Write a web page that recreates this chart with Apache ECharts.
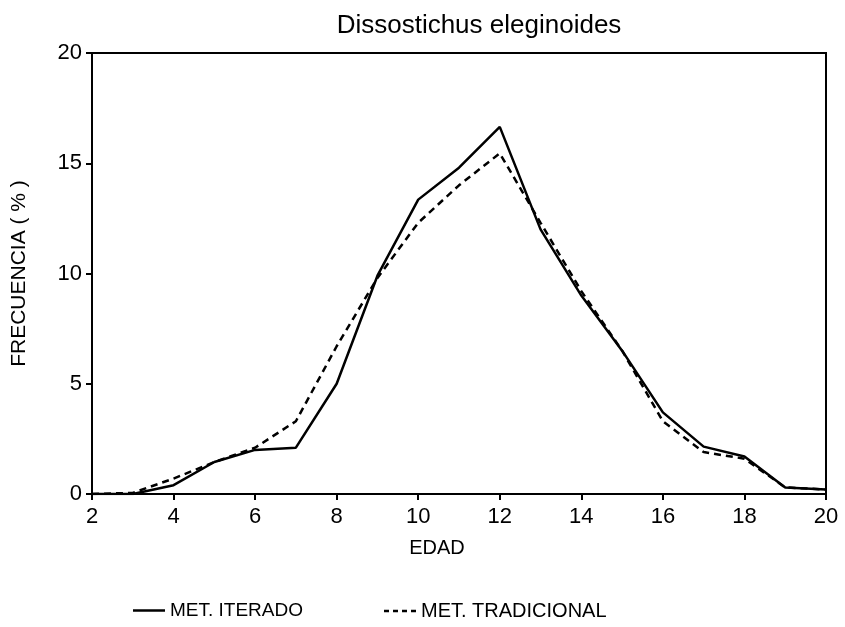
<!DOCTYPE html>
<html>
<head>
<meta charset="utf-8">
<script src="https://cdn.jsdelivr.net/npm/echarts@6/dist/echarts.min.js"></script>
<style>html,body{margin:0;padding:0;background:#fff}#c{width:845px;height:627px}</style>
</head>
<body>
<div id="c"></div>
<script>
var ages = [2, 3, 4, 5, 6, 7, 8, 9, 10, 11, 12, 13, 14, 15, 16, 17, 18, 19, 20];
var iterado = [0, 0, 0.4, 1.45, 2.0, 2.1, 5.0, 9.9, 13.35, 14.8, 16.65, 12.0, 9.0, 6.5, 3.7, 2.15, 1.7, 0.3, 0.2];
var tradicional = [0, 0.05, 0.7, 1.45, 2.1, 3.3, 6.7, 9.8, 12.3, 14.0, 15.45, 12.3, 9.2, 6.5, 3.3, 1.9, 1.6, 0.3, 0.2];
var yTicks = [0, 5, 10, 15, 20];

function pairs(v) { return ages.map(function (a, i) { return [a, v[i]]; }); }

var font = 'Liberation Sans, Arial, sans-serif';
var chart = echarts.init(document.getElementById('c'));
chart.setOption({
  animation: false,
  backgroundColor: '#fff',
  title: {
    text: 'Dissostichus eleginoides',
    left: 474, top: 8, textAlign: 'center',
    textStyle: { fontFamily: font, fontSize: 26, fontWeight: 'normal', color: '#000' }
  },
  grid: { left: 92, right: 19, top: 53, bottom: 133, show: true, borderColor: '#000', borderWidth: 2, backgroundColor: 'transparent' },
  xAxis: {
    type: 'value', min: 2, max: 20, interval: 2,
    name: 'EDAD', nameLocation: 'middle', nameGap: 44,
    nameTextStyle: { fontFamily: font, fontSize: 20, color: '#000', padding: [0, 44, 0, 0] },
    axisLine: { lineStyle: { color: '#000', width: 2 } },
    axisTick: { show: true, inside: false, length: 6, lineStyle: { color: '#000', width: 2 } },
    axisLabel: { fontFamily: font, fontSize: 22, color: '#000', margin: 12 },
    splitLine: { show: false }
  },
  yAxis: {
    type: 'value', min: yTicks[0], max: yTicks[yTicks.length - 1], interval: 5,
    name: 'FRECUENCIA ( % )', nameLocation: 'middle', nameGap: 62,
    nameTextStyle: { fontFamily: font, fontSize: 21, color: '#000' },
    axisLine: { show: true, lineStyle: { color: '#000', width: 2 } },
    axisTick: { show: true, length: 6, lineStyle: { color: '#000', width: 2 } },
    axisLabel: { fontFamily: font, fontSize: 22, color: '#000', margin: 10 },
    splitLine: { show: false }
  },
  legend: [
    {
      left: 128, top: 596, itemWidth: 32, itemHeight: 14, itemGap: 10,
      textStyle: { fontFamily: font, fontSize: 19, color: '#000' },
      data: [{ name: 'MET. ITERADO', icon: 'path://M0,6L32,6L32,8.5L0,8.5Z' }]
    },
    {
      left: 379, top: 596, itemWidth: 32, itemHeight: 14, itemGap: 10,
      textStyle: { fontFamily: font, fontSize: 20, color: '#000' },
      data: [{ name: 'MET. TRADICIONAL', icon: 'path://M0,6L5,6L5,8.5L0,8.5Z M9,6L14,6L14,8.5L9,8.5Z M18,6L23,6L23,8.5L18,8.5Z M27,6L32,6L32,8.5L27,8.5Z' }]
    }
  ],
  series: [
    {
      name: 'MET. ITERADO', type: 'line', data: pairs(iterado),
      symbol: 'none', lineStyle: { color: '#000', width: 2.5, type: 'solid' },
      itemStyle: { color: '#000' }
    },
    {
      name: 'MET. TRADICIONAL', type: 'line', data: pairs(tradicional),
      symbol: 'none', lineStyle: { color: '#000', width: 2.5, type: [7, 5] },
      itemStyle: { color: '#000' }
    }
  ]
});
</script>
</body>
</html>
